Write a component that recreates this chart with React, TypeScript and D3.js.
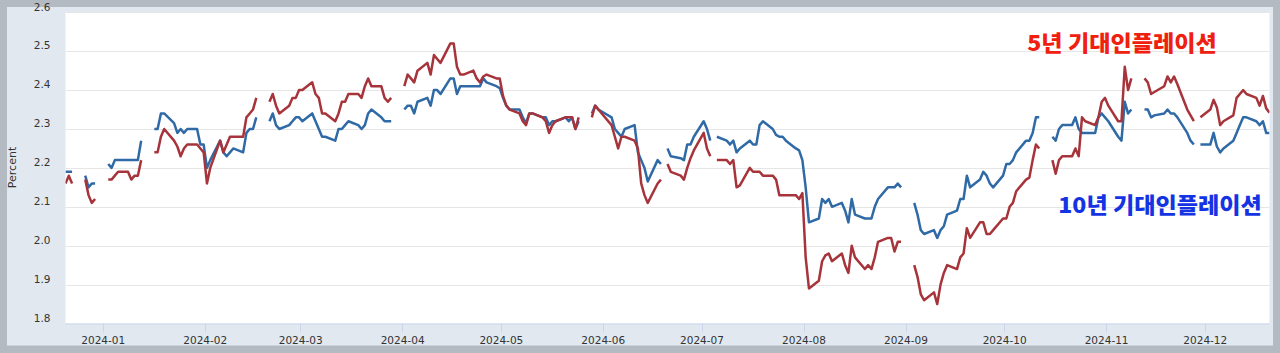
import { useEffect, useRef } from "react";
import * as d3 from "d3";

// business days 2023-12-20 .. 2024-12-20, market holidays are null
const startDate = new Date(Date.UTC(2023, 11, 20));
const endDate = new Date(Date.UTC(2024, 11, 20));

// 5-year breakeven inflation (T5YIE)
const t5Values: (number | null)[] = [
  // 2023-12
  2.16, 2.18, 2.16, null, 2.17, 2.13, 2.11, 2.12,
  // 2024-01
  null, 2.17, 2.17, 2.18, 2.19, 2.19, 2.17, 2.18, 2.18, 2.22, null, 2.24, 2.24, 2.28, 2.3, 2.27, 2.255, 2.23, 2.25, 2.26, 2.26, 2.25, 2.24,
  // 2024-02
  2.16, 2.2, 2.27, 2.24, 2.26, 2.28, 2.28, 2.28, 2.33, 2.34, 2.35, 2.38, null, 2.37, 2.39, 2.36, 2.34, 2.36, 2.38, 2.38, 2.4,
  // 2024-03
  2.4, 2.42, 2.39, 2.38, 2.34, 2.34, 2.32, 2.34, 2.37, 2.37, 2.39, 2.39, 2.38, 2.41, 2.43, 2.41, 2.41, 2.38, 2.37, 2.38, null,
  // 2024-04
  2.41, 2.44, 2.43, 2.42, 2.45, 2.47, 2.44, 2.49, 2.48, 2.47, 2.52, 2.52, 2.46, 2.44, 2.44, 2.45, 2.43, 2.42, 2.435, 2.44, 2.43, 2.43,
  // 2024-05
  2.385, 2.36, 2.35, 2.34, 2.32, 2.31, 2.34, 2.34, 2.33, 2.32, 2.29, 2.31, 2.32, 2.33, 2.33, 2.33, 2.3, 2.33, null, 2.33, 2.36, 2.35, 2.34,
  // 2024-06
  2.31, 2.28, 2.25, 2.28, 2.28, 2.27, 2.25, 2.16, 2.13, 2.11, 2.16, 2.17, null, 2.21, 2.19, 2.18, 2.17, 2.2, 2.225, 2.245,
  // 2024-07
  2.29, 2.25, 2.23, null, 2.22, 2.22, 2.21, 2.22, 2.15, 2.155, 2.2, 2.19, 2.19, 2.19, 2.18, 2.18, 2.17, 2.13, 2.13, 2.13, 2.13, 2.12, 2.135,
  // 2024-08
  1.97, 1.89, 1.91, 1.96, 1.975, 1.98, 1.96, 1.98, 1.95, 1.93, 2.0, 1.97, 1.94, 1.95, 1.94, 1.97, 2.01, 2.02, 2.02, 1.985, 2.01, 2.01,
  // 2024-09
  null, 1.95, 1.92, 1.875, 1.86, 1.88, 1.85, 1.9, 1.93, 1.95, 1.94, 1.97, 1.98, 2.045, 2.02, 2.06, 2.06, 2.03, 2.03, 2.04, 2.07,
  // 2024-10
  2.07, 2.1, 2.11, 2.14, 2.17, 2.175, 2.22, 2.26, 2.25, null, 2.22, 2.185, 2.22, 2.23, 2.23, 2.25, 2.23, 2.33, 2.32, 2.31, 2.33, 2.37, 2.38,
  // 2024-11
  2.36, 2.32, 2.32, 2.46, 2.4, 2.43, null, 2.43, 2.42, 2.39, 2.395, 2.41, 2.435, 2.42, 2.435, 2.415, 2.35, 2.335, 2.32, null, 2.33,
  // 2024-12
  2.35, 2.375, 2.355, 2.31, 2.32, 2.335, 2.38, 2.39, 2.4, 2.39, 2.38, 2.36, 2.385, 2.353, 2.342,
];

// 10-year breakeven inflation (T10YIE)
const t10Values: (number | null)[] = [
  // 2023-12
  2.19, 2.19, 2.19, null, 2.18, 2.15, 2.16, 2.16,
  // 2024-01
  null, 2.21, 2.2, 2.22, 2.22, 2.22, 2.22, 2.22, 2.22, 2.27, null, 2.3, 2.3, 2.34, 2.34, 2.315, 2.29, 2.3, 2.29, 2.3, 2.3, 2.26, 2.26,
  // 2024-02
  2.2, 2.22, 2.27, 2.24, 2.23, 2.24, 2.25, 2.24, 2.29, 2.3, 2.3, 2.33, null, 2.32, 2.34, 2.31, 2.3, 2.31, 2.32, 2.33, 2.33,
  // 2024-03
  2.32, 2.34, 2.32, 2.3, 2.28, 2.28, 2.27, 2.3, 2.3, 2.31, 2.32, 2.31, 2.3, 2.31, 2.34, 2.35, 2.33, 2.32, 2.32, 2.32, null,
  // 2024-04
  2.35, 2.36, 2.36, 2.34, 2.37, 2.38, 2.36, 2.4, 2.4, 2.39, 2.43, 2.43, 2.39, 2.41, 2.41, 2.41, 2.41, 2.41, 2.43, 2.42, 2.41, 2.405,
  // 2024-05
  2.38, 2.36, 2.35, 2.35, 2.33, 2.315, 2.34, 2.34, 2.33, 2.33, 2.31, 2.32, 2.32, 2.33, 2.32, 2.33, 2.3, 2.32, null, 2.34, 2.36, 2.35, 2.345,
  // 2024-06
  2.33, 2.3, 2.29, 2.28, 2.3, 2.31, 2.24, 2.22, 2.2, 2.165, 2.22, 2.21, null, 2.25, 2.23, 2.225, 2.22, 2.26, 2.26, 2.28,
  // 2024-07
  2.32, 2.3, 2.27, null, 2.28, 2.27, 2.26, 2.27, 2.24, 2.25, 2.27, 2.26, 2.26, 2.31, 2.32, 2.3, 2.285, 2.28, 2.28, 2.27, 2.25, 2.245, 2.22,
  // 2024-08
  2.15, 2.06, 2.07, 2.12, 2.11, 2.12, 2.1, 2.11, 2.09, 2.06, 2.12, 2.08, 2.07, 2.07, 2.07, 2.1, 2.12, 2.15, 2.15, 2.15, 2.16, 2.15,
  // 2024-09
  null, 2.11, 2.08, 2.04, 2.03, 2.04, 2.02, 2.04, 2.05, 2.08, 2.09, 2.12, 2.12, 2.18, 2.15, 2.17, 2.19, 2.18, 2.16, 2.15, 2.18,
  // 2024-10
  2.21, 2.21, 2.22, 2.24, 2.27, 2.27, 2.29, 2.33, 2.33, null, 2.28, 2.27, 2.3, 2.31, 2.31, 2.33, 2.3, 2.29, 2.29, 2.29, 2.33, 2.34, 2.33,
  // 2024-11
  2.32, 2.28, 2.27, 2.37, 2.34, 2.35, null, 2.35, 2.35, 2.33, 2.335, 2.34, 2.35, 2.34, 2.34, 2.33, 2.29, 2.27, 2.26, null, 2.26,
  // 2024-12
  2.26, 2.29, 2.255, 2.24, 2.25, 2.27, 2.29, 2.31, 2.33, 2.33, 2.32, 2.31, 2.32, 2.29, 2.29,
];

const yTicks = [1.8, 1.9, 2.0, 2.1, 2.2, 2.3, 2.4, 2.5, 2.6];
const yAxisTitle = "Percent";
const label5 = "5년 기대인플레이션";
const label10 = "10년 기대인플레이션";

const theme = {
  frame: "#b3bac1",
  panel: "#e1e8ef",
  grid: "#e6e6e6",
  axis: "#ccd6eb",
  text: "#333333",
  red: "#a6343a",
  blue: "#306aa6",
  labelRed: "#f0200f",
  labelBlue: "#1434e4",
  font: "'DejaVu Sans', Verdana, sans-serif",
  cjk: "'Noto Sans CJK KR', sans-serif",
};

type Pt = { date: Date; v: number | null };

export default function App() {
  const svgRef = useRef<SVGSVGElement>(null);

  useEffect(() => {
    if (!svgRef.current) return;
    const width = 1280;
    const height = 353;
    const plot = { left: 65.5, right: 1269.5, top: 12.3, bottom: 323.5 };

    const days = d3.utcDay
      .range(startDate, d3.utcDay.offset(endDate, 1))
      .filter((d) => d.getUTCDay() !== 0 && d.getUTCDay() !== 6);

    const t5: Pt[] = days.map((d, i) => ({ date: d, v: t5Values[i] ?? null }));
    const t10: Pt[] = days.map((d, i) => ({ date: d, v: t10Values[i] ?? null }));

    const x = d3.scaleUtc().domain([startDate, endDate]).range([plot.left, plot.right]);
    const y = d3.scaleLinear().domain([1.8, 2.6]).range([plot.bottom, plot.top]);

    const svg = d3.select(svgRef.current);
    svg.selectAll("*").remove();
    svg.attr("width", width).attr("height", height);

    svg.append("rect").attr("width", width).attr("height", height).attr("fill", theme.frame);
    svg
      .append("rect")
      .attr("x", 7)
      .attr("y", 7)
      .attr("width", 1266)
      .attr("height", 338.5)
      .attr("fill", theme.panel);
    svg
      .append("rect")
      .attr("x", plot.left)
      .attr("y", plot.top)
      .attr("width", plot.right - plot.left)
      .attr("height", plot.bottom - plot.top)
      .attr("fill", "#ffffff");

    svg
      .append("defs")
      .append("clipPath")
      .attr("id", "plot-clip")
      .append("rect")
      .attr("x", plot.left)
      .attr("y", plot.top - 2)
      .attr("width", plot.right - plot.left)
      .attr("height", plot.bottom - plot.top + 4);

    // Grid
    svg
      .append("g")
      .selectAll("line")
      .data(yTicks.slice(1))
      .join("line")
      .attr("x1", plot.left)
      .attr("x2", plot.right)
      .attr("y1", (d) => Math.round(y(d)) + 0.5)
      .attr("y2", (d) => Math.round(y(d)) + 0.5)
      .attr("stroke", theme.grid)
      .attr("stroke-width", 1);

    // Y labels
    svg
      .append("g")
      .selectAll("text")
      .data(yTicks)
      .join("text")
      .attr("x", 50.5)
      .attr("y", (d) => y(d) - 1.8)
      .attr("text-anchor", "end")
      .attr("fill", theme.text)
      .attr("font-size", 10.5)
      .attr("font-family", theme.font)
      .text((d) => d.toFixed(1));

    svg
      .append("text")
      .attr("transform", `translate(15.5,167.5) rotate(-90)`)
      .attr("text-anchor", "middle")
      .attr("fill", theme.text)
      .attr("font-size", 11)
      .attr("font-family", theme.font)
      .text(yAxisTitle);

    // X axis
    svg
      .append("line")
      .attr("x1", plot.left)
      .attr("x2", plot.right)
      .attr("y1", plot.bottom + 0.5)
      .attr("y2", plot.bottom + 0.5)
      .attr("stroke", theme.axis);

    const months = d3.utcMonth.range(d3.utcMonth.ceil(startDate), endDate);
    const xTicks = svg.append("g");
    xTicks
      .selectAll("line")
      .data(months)
      .join("line")
      .attr("x1", (d) => Math.round(x(d)) - 1.5)
      .attr("x2", (d) => Math.round(x(d)) - 1.5)
      .attr("y1", plot.bottom)
      .attr("y2", plot.bottom + 9)
      .attr("stroke", theme.axis);
    xTicks
      .selectAll("text")
      .data(months)
      .join("text")
      .attr("x", (d) => x(d) - 1.7)
      .attr("y", 343.5)
      .attr("text-anchor", "middle")
      .attr("fill", theme.text)
      .attr("font-size", 10.5)
      .attr("font-family", theme.font)
      .text((d) => d3.utcFormat("%Y-%m")(d));

    // Series lines
    const line = d3
      .line<Pt>()
      .defined((d) => d.v != null)
      .x((d) => x(d.date))
      .y((d) => y(d.v as number));

    const lines = svg.append("g").attr("clip-path", "url(#plot-clip)");
    lines
      .append("path")
      .datum(t10)
      .attr("fill", "none")
      .attr("stroke", theme.blue)
      .attr("stroke-width", 2.5)
      .attr("stroke-linejoin", "round")
      .attr("d", line);
    lines
      .append("path")
      .datum(t5)
      .attr("fill", "none")
      .attr("stroke", theme.red)
      .attr("stroke-width", 2.5)
      .attr("stroke-linejoin", "round")
      .attr("d", line);

    // Annotations
    svg
      .append("text")
      .attr("x", 1027.3)
      .attr("y", 50.8)
      .attr("fill", theme.labelRed)
      .attr("font-size", 21.5)
      .attr("font-weight", 900)
      .attr("font-family", theme.cjk)
      .attr("textLength", 189.4)
      .attr("lengthAdjust", "spacingAndGlyphs")
      .text(label5);
    svg
      .append("text")
      .attr("x", 1058.3)
      .attr("y", 213)
      .attr("fill", theme.labelBlue)
      .attr("font-size", 21.5)
      .attr("font-weight", 900)
      .attr("font-family", theme.cjk)
      .attr("textLength", 203.4)
      .attr("lengthAdjust", "spacingAndGlyphs")
      .text(label10);
  }, []);

  return (
    <div style={{ position: "absolute", left: 0, top: 0, width: 1280, height: 353 }}>
      <svg ref={svgRef} style={{ display: "block" }} />
    </div>
  );
}
